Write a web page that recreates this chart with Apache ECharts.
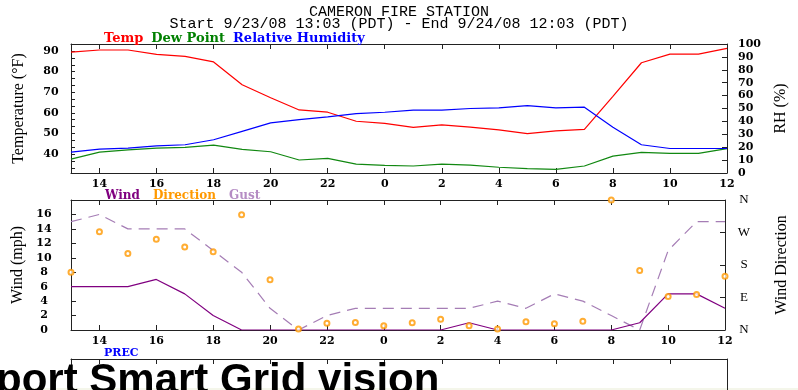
<!DOCTYPE html>
<html>
<head>
<meta charset="utf-8">
<script src="https://cdn.jsdelivr.net/npm/echarts@6/dist/echarts.min.js"></script>
<style>html,body{margin:0;padding:0;background:#fff;}#c{width:798px;height:390px;}</style>
</head>
<body>
<div id="c"></div>
<script>
// ---- data ----
const hours = ['13','14','15','16','17','18','19','20','21','22','23','0','1','2','3','4','5','6','7','8','9','10','11','12'];
const temp = [89.5,90.5,90.5,88.4,87.4,84.7,73.6,67.3,61.4,60.3,55.9,54.9,52.9,54.2,53.1,51.7,49.9,51.2,52.0,68.0,84.3,88.5,88.5,91.3];
const dewPoint = [37.5,40.9,42.0,42.9,43.2,44.3,42.3,41.1,37.1,37.9,35.1,34.5,34.2,35.1,34.6,33.6,32.9,32.6,34.2,39.0,40.8,40.3,40.3,42.6];
const humidity = [16.2,18.5,19.3,21.1,21.9,25.8,32.3,38.8,41.4,43.5,46.1,47.1,48.7,48.7,50.0,50.5,52.3,50.5,51.0,35.5,21.9,19.0,19.0,19.0];
const wind = [6,6,6,7,5,2,0,0,0,0,0,0,0,0,1,0,0,0,0,0,1,5,5,3];
const gust = [15,16,14,14,14,11,8,3,0,2,3,3,3,3,3,4,3,5,4,2,0,11,15,15];
const direction = [160,272,212,251,230,217,319,139,3,19,21,12,20,30,12,3,23,17,24,360,165,93,98,149];
const tempLabels = [40,50,60,70,80,90];
const tempTicks = [33.33,36.67,40,43.33,46.67,50,53.33,56.67,60,63.33,66.67,70,73.33,76.67,80,83.33,86.67,90,93.33];
const dirLabels = {0:'N',90:'E',180:'S',270:'W',360:'N'};

const tickFont = {fontFamily:'DejaVu Serif', fontWeight:'bold', fontSize:11, color:'#000'};
const nameFont = {fontFamily:'Liberation Serif', fontSize:16, color:'#000'};
const lineCol = '#222';
const evenIdx = (i) => i % 2 === 1;

function xAxis(gi, pos, showLabel) {
  return {
    type:'category', gridIndex:gi, data:hours, boundaryGap:false, position:pos,
    axisLine:{show:true, onZero:false, lineStyle:{color:lineCol, width:1}},
    axisTick:{show:true, inside:true, length:5, interval:evenIdx, lineStyle:{color:lineCol}},
    axisLabel:Object.assign({show:showLabel, interval:evenIdx, margin:6}, tickFont),
    splitLine:{show:false}
  };
}
const yLine = {show:true, onZero:false, lineStyle:{color:lineCol}};

const chart = echarts.init(document.getElementById('c'), null, {renderer:'canvas'});
chart.setOption({
  animation:false,
  backgroundColor:'#ffffff',
  title:{
    text:'CAMERON FIRE STATION',
    subtext:'Start 9/23/08 13:03 (PDT) - End 9/24/08 12:03 (PDT)',
    left:'center', top:7, padding:0, itemGap:-3,
    textStyle:{fontFamily:'Liberation Mono', fontSize:15, fontWeight:'normal', color:'#000', lineHeight:11},
    subtextStyle:{fontFamily:'Liberation Mono', fontSize:15, color:'#000', lineHeight:11}
  },
  legend:[
    {left:99, top:32, icon:'none', itemWidth:0, itemHeight:14, itemGap:3, padding:0, selectedMode:false,
     textStyle:{fontFamily:'DejaVu Serif', fontWeight:'bold', fontSize:13},
     data:[{name:'Temp', textStyle:{color:'#ff0000'}},{name:'Dew Point', textStyle:{color:'#008000'}},{name:'Relative Humidity', textStyle:{color:'#0000ff'}}]},
    {left:100, top:189, icon:'none', itemWidth:0, itemHeight:14, itemGap:8, padding:0, selectedMode:false,
     textStyle:{fontFamily:'DejaVu Serif', fontWeight:'bold', fontSize:12},
     data:[{name:'Wind', textStyle:{color:'#800080'}},{name:'Direction', textStyle:{color:'#ff9900'}},{name:'Gust', textStyle:{color:'#b58cc4'}}]},
    {left:99, top:346, icon:'none', itemWidth:0, itemHeight:14, padding:0, selectedMode:false,
     textStyle:{fontFamily:'DejaVu Serif', fontWeight:'bold', fontSize:11},
     data:[{name:'PREC', textStyle:{color:'#0000ff'}}]}
  ],
  grid:[
    {left:71, right:71, top:44, height:129},
    {left:71, right:71, top:200, height:130},
    {left:71, right:71, top:359, height:120}
  ],
  xAxis:[
    xAxis(0,'bottom',true), xAxis(0,'top',false),
    xAxis(1,'bottom',true), xAxis(1,'top',false),
    xAxis(2,'top',false)
  ],
  yAxis:[
    {type:'value', gridIndex:0, position:'left', min:30.8, max:93.4,
     name:'Temperature (°F)', nameLocation:'middle', nameGap:44, nameRotate:90, nameTextStyle:nameFont,
     axisLine:yLine,
     axisTick:{show:true, inside:true, length:4, customValues:tempTicks, lineStyle:{color:lineCol}},
     axisLabel:Object.assign({customValues:tempLabels, align:'center', margin:20}, tickFont),
     splitLine:{show:false}},
    {type:'value', gridIndex:0, position:'right', min:0, max:100, interval:10,
     name:'RH (%)', nameLocation:'middle', nameGap:46, nameRotate:90, nameTextStyle:nameFont,
     axisLine:yLine,
     axisTick:{show:true, inside:true, length:5, lineStyle:{color:lineCol}},
     axisLabel:Object.assign({align:'left', margin:11}, tickFont),
     splitLine:{show:false}},
    {type:'value', gridIndex:1, position:'left', min:0, max:18, interval:2,
     name:'Wind (mph)', nameLocation:'middle', nameGap:42, nameRotate:90, nameTextStyle:nameFont,
     axisLine:yLine,
     axisTick:{show:true, inside:true, length:5, lineStyle:{color:lineCol}},
     axisLabel:Object.assign({align:'center', margin:27, formatter:(v)=> v===18 ? '' : String(v)}, tickFont),
     splitLine:{show:false}},
    {type:'value', gridIndex:1, position:'right', min:0, max:360, interval:90,
     name:'Wind Direction', nameLocation:'middle', nameGap:49, nameRotate:90, nameTextStyle:nameFont,
     axisLine:yLine,
     axisTick:{show:true, inside:true, length:5, lineStyle:{color:lineCol}},
     axisLabel:{align:'center', margin:19, fontFamily:'Liberation Serif', fontSize:13, color:'#000',
       formatter:(v)=> dirLabels[v] !== undefined ? dirLabels[v] : ''},
     splitLine:{show:false}},
    {type:'value', gridIndex:2, position:'left', min:0, max:1,
     axisLine:yLine, axisTick:{show:false}, axisLabel:{show:false}, splitLine:{show:false}},
    {type:'value', gridIndex:2, position:'right', min:0, max:1,
     axisLine:yLine, axisTick:{show:false}, axisLabel:{show:false}, splitLine:{show:false}}
  ],
  series:[
    {name:'Temp', type:'line', xAxisIndex:0, yAxisIndex:0, data:temp, symbol:'none', color:'#ff0000', lineStyle:{width:1.2}},
    {name:'Dew Point', type:'line', xAxisIndex:0, yAxisIndex:0, data:dewPoint, symbol:'none', color:'#118811', lineStyle:{width:1.2}},
    {name:'Relative Humidity', type:'line', xAxisIndex:0, yAxisIndex:1, data:humidity, symbol:'none', color:'#0000ff', lineStyle:{width:1.2}},
    {name:'Gust', type:'line', xAxisIndex:2, yAxisIndex:2, data:gust, symbol:'none', color:'#a57db5', lineStyle:{width:1.2, type:[11,7]}},
    {name:'Wind', type:'line', xAxisIndex:2, yAxisIndex:2, data:wind, symbol:'none', color:'#800080', lineStyle:{width:1.2}},
    {name:'Direction', type:'scatter', xAxisIndex:2, yAxisIndex:3, data:direction, symbol:'emptyCircle', symbolSize:5,
     color:'#ff9900', itemStyle:{borderWidth:1.3, color:'#ff9900'}, z:5},
    {name:'PREC', type:'line', xAxisIndex:4, yAxisIndex:4, data:[], symbol:'none', color:'#0000ff'}
  ],
  graphic:[
    {type:'rect', shape:{x:0, y:388, width:798, height:2}, style:{fill:'#f4f6ea', stroke:null}, z:-1, silent:true},
    {type:'text', x:-4, y:381, z:100, silent:true,
     style:{text:'port Smart Grid vision', font:'bold 42px "Liberation Sans"', fill:'#000', verticalAlign:'middle', align:'left'}}
  ]
});
</script>
</body>
</html>
